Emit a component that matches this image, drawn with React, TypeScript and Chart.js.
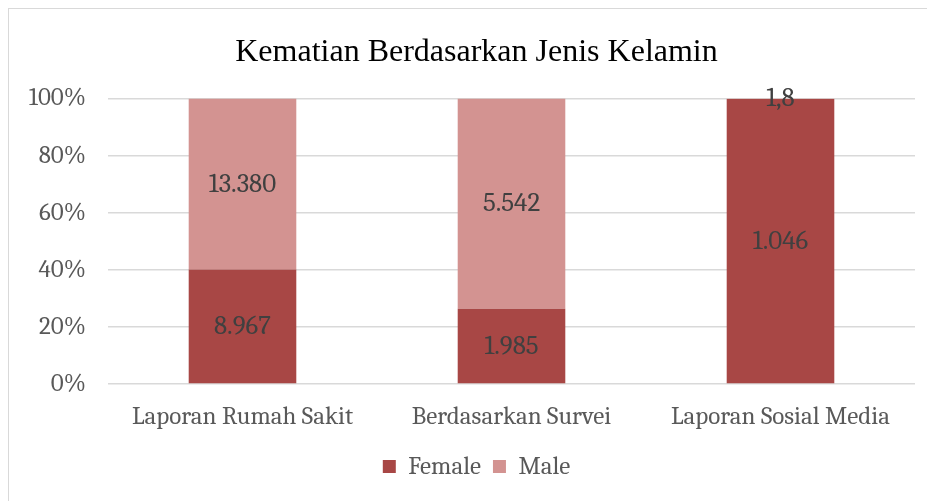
import React, { useEffect, useRef } from "react";
import { Chart, registerables } from "chart.js";

Chart.register(...registerables);

const categories = ["Laporan Rumah Sakit", "Berdasarkan Survei", "Laporan Sosial Media"];
const femaleValues = [8967, 1985, 1046];
const maleValues = [13380, 5542, 1.8];
const seriesNames = ["Female", "Male"];
const yTicks = [0, 20, 40, 60, 80, 100];

const FEMALE_COLOR = "#A84745";
const MALE_COLOR = "#D39391";
const TICK_FONT = "Cambria, 'DejaVu Serif', serif";

function fmtId(v: number): string {
  const neg = v < 0;
  const abs = Math.abs(v);
  const intPart = Math.floor(abs);
  const dec = abs - intPart;
  const intStr = String(intPart).replace(/\B(?=(\d{3})+(?!\d))/g, ".");
  let out = intStr;
  if (dec > 1e-9) {
    const d = String(Math.round(dec * 10));
    out += "," + d;
  }
  return (neg ? "-" : "") + out;
}

const rawSeries = [femaleValues, maleValues];
const totals = categories.map((_, i) => femaleValues[i] + maleValues[i]);
const pctSeries = rawSeries.map((s) => s.map((v, i) => (v / totals[i]) * 100));

const noLabelClipPlugin = {
  id: "noLabelClip",
  beforeDraw(chart: any) {
    const y = chart.scales.y;
    if (y) y._computeLabelArea = () => undefined;
  },
};

const labelPlugin = {
  id: "barLabels",
  afterDatasetsDraw(chart: any) {
    const ctx = chart.ctx;
    ctx.save();
    ctx.fillStyle = "#404040";
    ctx.font = "27px " + TICK_FONT;
    ctx.textAlign = "center";
    ctx.textBaseline = "middle";
    chart.data.datasets.forEach((ds: any, di: number) => {
      const meta = chart.getDatasetMeta(di);
      meta.data.forEach((el: any, i: number) => {
        const raw = rawSeries[di][i];
        const y = (el.y + el.base) / 2;
        ctx.fillText(fmtId(raw), el.x, y);
      });
    });
    ctx.restore();
  },
};

export default function App() {
  const ref = useRef<HTMLCanvasElement | null>(null);
  useEffect(() => {
    if (!ref.current) return;
    const chart = new Chart(ref.current, {
      type: "bar",
      data: {
        labels: categories,
        datasets: [
          {
            label: seriesNames[0],
            data: pctSeries[0],
            backgroundColor: FEMALE_COLOR,
            categoryPercentage: 1,
            barPercentage: 0.4,
          },
          {
            label: seriesNames[1],
            data: pctSeries[1],
            backgroundColor: MALE_COLOR,
            categoryPercentage: 1,
            barPercentage: 0.4,
          },
        ],
      },
      options: {
        responsive: false,
        animation: false,
        layout: { padding: { left: 29, right: 20, top: 10, bottom: 12 } },
        plugins: {
          title: {
            display: true,
            text: "Kematian Berdasarkan Jenis Kelamin",
            color: "#000000",
            font: { family: "'Liberation Serif', 'Times New Roman', serif", size: 32, weight: "normal" },
            padding: { top: 14, bottom: 27 },
          },
          legend: {
            position: "bottom",
            labels: {
              color: "#595959",
              font: { family: TICK_FONT, size: 25 },
              boxWidth: 13,
              boxHeight: 13,
              padding: 12,
            },
          },
          tooltip: { enabled: false },
        },
        scales: {
          x: {
            stacked: true,
            grid: { display: false },
            border: { display: false },
            ticks: { color: "#595959", font: { family: TICK_FONT, size: 25 }, padding: 10 },
          },
          y: {
            stacked: true,
            min: 0,
            max: 100,
            afterBuildTicks: (axis: any) => {
              axis.ticks = yTicks.map((v) => ({ value: v }));
            },
            afterFit: (axis: any) => {
              axis.width = 70;
            },
            grid: { color: "#D9D9D9", lineWidth: 1.5, drawTicks: false },
            border: { display: false },
            ticks: {
              color: "#595959",
              font: { family: TICK_FONT, size: 25 },
              padding: 22,
              callback: (v: any) => v + "%",
            },
          },
        },
      },
      plugins: [noLabelClipPlugin, labelPlugin],
    });
    return () => chart.destroy();
  }, []);
  return (
    <div
      style={{
        width: 927,
        height: 493,
        borderLeft: "1px solid #D9D9D9",
        borderTop: "1px solid #D9D9D9",
        boxSizing: "border-box",
        overflow: "hidden",
      }}
    >
      <canvas ref={ref} width={926} height={492} style={{ display: "block" }} />
    </div>
  );
}
